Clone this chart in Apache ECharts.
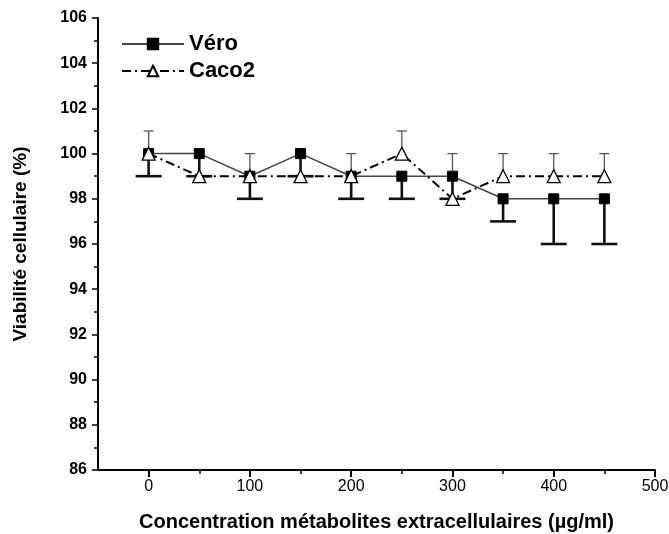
<!DOCTYPE html>
<html><head><meta charset="utf-8">
<script src="https://cdn.jsdelivr.net/npm/echarts@6/dist/echarts.min.js"></script>
<style>html,body{margin:0;padding:0;background:#fff}#c{width:669px;height:534px}</style>
</head><body><div id="c"></div>
<script>
const concentrations = [0, 50, 100, 150, 200, 250, 300, 350, 400, 450];
const vero = [100, 100, 99, 100, 99, 99, 99, 98, 98, 98];
const veroErrDown = [1, 1, 1, 1, 1, 1, 1, 1, 2, 2];
const caco2 = [100, 99, 99, 99, 99, 100, 98, 99, 99, 99];
const caco2ErrUp = [1, 0, 1, 0, 1, 1, 2, 1, 1, 1];
const xMajorTicks = [0, 100, 200, 300, 400, 500];
const xMinorTicks = [50, 150, 250, 350, 450];

const font = 'Liberation Sans, Arial, sans-serif';
const chart = echarts.init(document.getElementById('c'));

function errBar(capW, lw, color) {
  return function (params, api) {
    const x = api.value(0), y0 = api.value(1), y1 = api.value(2);
    if (y0 === y1) return null;
    const p0 = api.coord([x, y0]), p1 = api.coord([x, y1]);
    const st = { stroke: color, lineWidth: lw };
    return { type: 'group', children: [
      { type: 'line', shape: { x1: p0[0], y1: p0[1], x2: p1[0], y2: p1[1] }, style: st },
      { type: 'line', shape: { x1: p1[0] - capW / 2, y1: p1[1], x2: p1[0] + capW / 2, y2: p1[1] }, style: st }
    ]};
  };
}

const veroPts = concentrations.map((c, i) => [c, vero[i]]);
const cacoPts = concentrations.map((c, i) => [c, caco2[i]]);
const veroErr = concentrations.map((c, i) => [c, vero[i], vero[i] - veroErrDown[i]]);
const cacoErr = concentrations.map((c, i) => [c, caco2[i], caco2[i] + caco2ErrUp[i]]);

chart.setOption({
  animation: false,
  grid: { left: 98, right: 14, top: 18, bottom: 64, outerBoundsMode: 'none', containLabel: false },
  legend: {
    orient: 'vertical', left: 116, top: 28, itemGap: 5,
    itemWidth: 62, itemHeight: 13,
    data: ['Véro', 'Caco2'],
    textStyle: { fontFamily: font, fontWeight: 'bold', fontSize: 22, color: '#000' }
  },
  xAxis: [{
    type: 'value', min: -50, max: 500,
    name: 'Concentration métabolites extracellulaires (µg/ml)',
    nameLocation: 'middle', nameGap: 42,
    nameTextStyle: { fontFamily: font, fontWeight: 'bold', fontSize: 20, color: '#000' },
    axisLine: { onZero: false, lineStyle: { color: '#000', width: 2 } },
    axisTick: { show: true, length: 7, lineStyle: { color: '#000', width: 2 }, customValues: xMajorTicks },
    axisLabel: { customValues: xMajorTicks, fontFamily: font, fontSize: 16, color: '#000', margin: 9 },
    splitLine: { show: false }
  }, {
    type: 'value', min: -50, max: 500, position: 'bottom',
    axisLine: { show: false, onZero: false },
    axisTick: { show: true, length: 4, lineStyle: { color: '#000', width: 1.5 }, customValues: xMinorTicks },
    axisLabel: { show: false },
    splitLine: { show: false }
  }],
  yAxis: {
    type: 'value', min: 86, max: 106, interval: 2,
    name: 'Viabilité cellulaire (%)',
    nameLocation: 'middle', nameGap: 68,
    nameTextStyle: { fontFamily: font, fontWeight: 'bold', fontSize: 19, color: '#000' },
    axisLine: { show: true, onZero: false, lineStyle: { color: '#000', width: 2 } },
    axisTick: { show: true, length: 6, lineStyle: { color: '#000', width: 1.5 } },
    minorTick: { show: true, splitNumber: 2, length: 4, lineStyle: { color: '#000', width: 1.5 } },
    axisLabel: { fontFamily: font, fontWeight: 'bold', fontSize: 16, color: '#000', margin: 11 },
    splitLine: { show: false }
  },
  series: [
    { type: 'custom', name: 'caco2err', renderItem: errBar(10, 1.3, '#555'), data: cacoErr, z: 1, silent: true },
    { type: 'custom', name: 'veroerr', renderItem: errBar(26, 2.6, '#111'), data: veroErr, z: 1, silent: true },
    {
      name: 'Véro', type: 'line', data: veroPts, z: 3,
      symbol: 'rect', symbolSize: 10,
      lineStyle: { color: '#444', width: 1.5, type: 'solid' },
      itemStyle: { color: '#000', borderColor: '#000', borderWidth: 1 }
    },
    {
      name: 'Caco2', type: 'line', data: cacoPts, z: 4,
      symbol: 'triangle', symbolSize: 13,
      lineStyle: { color: '#000', width: 2, type: [9, 4, 2, 4] },
      itemStyle: { color: '#fff', borderColor: '#000', borderWidth: 1.3 }
    }
  ]
});
</script></body></html>
